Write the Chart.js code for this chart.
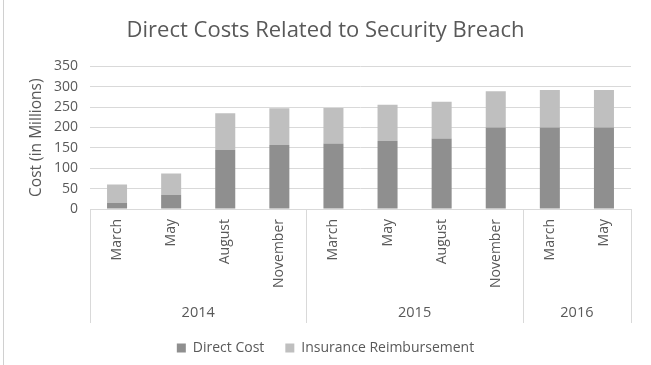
<!DOCTYPE html>
<html>
<head>
<meta charset="utf-8">
<script src="https://cdn.jsdelivr.net/npm/chart.js@4"></script>
<style>
  html, body { margin: 0; padding: 0; background: #ffffff; }
  #wrap { position: relative; width: 651px; height: 365px; }
</style>
</head>
<body>
<div id="wrap"><canvas id="c" width="651" height="365"></canvas></div>
<script>
// ---- data ----
const months = ["March", "May", "August", "November", "March", "May", "August", "November", "March", "May"];
const years = ["2014", "2015", "2016"];
const yearSpans = [4, 4, 2];
const directCost = [15, 35, 145, 157, 161, 167, 173, 200, 200, 200];
const insuranceReimbursement = [45, 52, 90, 90, 87, 89, 90, 89, 92, 92];
const yTicks = [0, 50, 100, 150, 200, 250, 300, 350];

const FONT = "'Open Sans'";
const TEXT = "#595959";
const GRID = "#d9d9d9";

const groupAxis = {
  id: "groupAxis",
  afterDraw(chart) {
    const ctx = chart.ctx;
    const x = chart.scales.x;
    const area = chart.chartArea;
    const top = area.bottom;
    const bottom = area.bottom + 114;
    const bounds = [area.left];
    let idx = 0;
    yearSpans.forEach((span) => {
      idx += span;
      if (idx < months.length) {
        bounds.push((x.getPixelForValue(idx - 1) + x.getPixelForValue(idx)) / 2);
      } else {
        bounds.push(area.right);
      }
    });
    ctx.save();
    ctx.strokeStyle = GRID;
    ctx.lineWidth = 1;
    bounds.forEach(b => {
      const bx = Math.round(b) + 0.5;
      ctx.beginPath();
      ctx.moveTo(bx, top);
      ctx.lineTo(bx, bottom);
      ctx.stroke();
    });
    ctx.fillStyle = TEXT;
    ctx.font = "14.5px " + FONT;
    ctx.textAlign = "center";
    ctx.textBaseline = "middle";
    years.forEach((y, i) => {
      ctx.fillText(y, (bounds[i] + bounds[i + 1]) / 2, area.bottom + 104);
    });
    // outer frame line on the left
    ctx.strokeStyle = "#d0d0d0";
    ctx.beginPath();
    ctx.moveTo(3.5, 0);
    ctx.lineTo(3.5, chart.height);
    ctx.stroke();
    ctx.restore();
  }
};

new Chart(document.getElementById("c"), {
  type: "bar",
  data: {
    labels: months,
    datasets: [
      { label: "Direct Cost", data: directCost, backgroundColor: "#8f8f8f", barPercentage: 0.37, categoryPercentage: 1.0 },
      { label: "Insurance Reimbursement", data: insuranceReimbursement, backgroundColor: "#bfbfbf", barPercentage: 0.37, categoryPercentage: 1.0 }
    ]
  },
  options: {
    responsive: false,
    animation: false,
    devicePixelRatio: 1,
    layout: { padding: { left: 0, right: 0, top: 0, bottom: 0 } },
    plugins: {
      title: {
        display: true,
        text: "Direct Costs Related to Security Breach",
        color: TEXT,
        font: { family: FONT, size: 22, weight: "normal" },
        padding: { top: 18, bottom: 22 }
      },
      legend: {
        position: "bottom",
        labels: {
          color: TEXT,
          font: { family: FONT, size: 14 },
          boxWidth: 9,
          boxHeight: 9,
          padding: 21
        }
      },
      tooltip: { enabled: false }
    },
    scales: {
      x: {
        stacked: true,
        grid: { display: false, drawTicks: false },
        border: { display: false },
        ticks: {
          color: TEXT,
          font: { family: FONT, size: 14 },
          minRotation: 90,
          maxRotation: 90,
          autoSkip: false,
          padding: 10
        },
        afterFit(scale) { scale.height = 111; }
      },
      y: {
        stacked: true,
        min: 0,
        max: 350,
        grid: { color: GRID, drawTicks: false },
        border: { display: false },
        afterBuildTicks(scale) { scale.ticks = yTicks.map(v => ({ value: v })); },
        ticks: {
          color: TEXT,
          font: { family: FONT, size: 14 },
          autoSkip: false,
          padding: 12
        },
        title: {
          display: true,
          text: "Cost (in Millions)",
          color: TEXT,
          font: { family: FONT, size: 15.5 },
          padding: { top: 27, bottom: 0 }
        },
        afterFit(scale) { scale.width = 90; }
      },
      rightSpace: {
        type: "linear",
        position: "right",
        display: true,
        grid: { display: false, drawTicks: false },
        border: { display: false },
        ticks: { display: false },
        afterFit(scale) { scale.width = 20; }
      }
    }
  },
  plugins: [groupAxis]
});
</script>
</body>
</html>
